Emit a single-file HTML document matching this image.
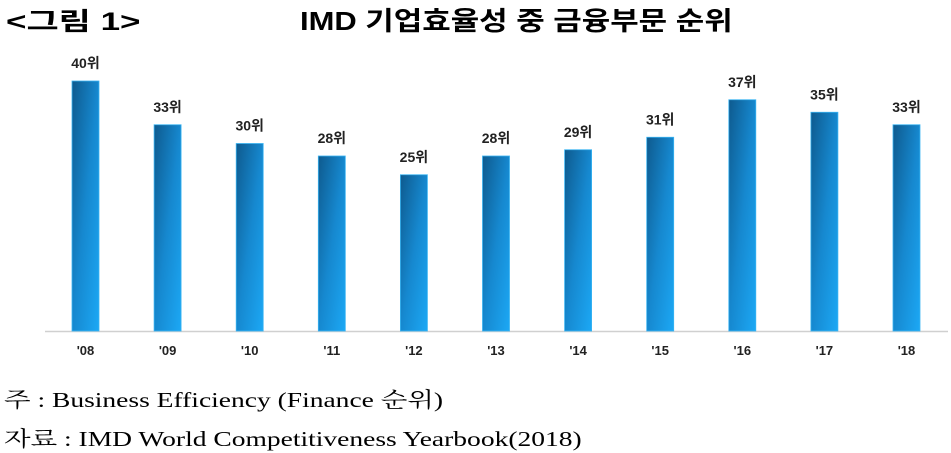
<!DOCTYPE html>
<html><head><meta charset="utf-8"><style>
body{margin:0;width:951px;height:450px;background:#fff;overflow:hidden;font-family:"Liberation Sans","Noto Sans CJK KR",sans-serif;}
.t{position:absolute;white-space:nowrap;transform-origin:0 0;}
</style></head><body>
<div class="t" style="left:6px;top:2px;font-size:25px;font-weight:bold;transform:scaleX(1.4);">&lt;그림 1&gt;</div>
<div class="t" style="left:300px;top:1px;font-size:26px;font-weight:bold;transform:scaleX(1.19);">IMD 기업효율성 중 금융부문 순위</div>
<svg id="c" width="951" height="450" style="position:absolute;left:0;top:0">
<defs><linearGradient id="g" x1="0" y1="0" x2="1" y2="1" gradientUnits="objectBoundingBox">
<stop offset="0" stop-color="#0e5a8e"/><stop offset="0.5" stop-color="#1688cf"/><stop offset="1" stop-color="#1ca8f5"/></linearGradient></defs>
</svg>
<div class="t" style="left:4px;top:384px;font-size:21px;font-family:'Liberation Serif','Noto Serif CJK SC',serif;transform:scaleX(1.31);">주 : Business Efficiency (Finance 순위)</div>
<div class="t" style="left:4px;top:423px;font-size:21px;font-family:'Liberation Serif','Noto Serif CJK SC',serif;transform:scaleX(1.31);">자료 : IMD World Competitiveness Yearbook(2018)</div>
<script>
const categories=["'08","'09","'10","'11","'12","'13","'14","'15","'16","'17","'18"];
const values=[40,33,30,28,25,28,29,31,37,35,33];
const svg=document.getElementById('c');const NS='http://www.w3.org/2000/svg';
const base=331,scale=6.25,x0=85.5,step=82.1,bw=27;
const y=v=>base-v*scale;const x=i=>x0+i*step;
function mk(t,a){const e=document.createElementNS(NS,t);for(const k in a)e.setAttribute(k,a[k]);svg.appendChild(e);return e;}
const ax=mk('line',{x1:45,x2:948,y1:base+0.5,y2:base+0.5,stroke:'#d0d0d0','stroke-width':1.5});


values.forEach((v,i)=>{
const r=mk('rect',{x:x(i)-bw/2,y:y(v),width:bw,height:base-y(v),fill:'url(#g)',stroke:'#3ab4f2','stroke-width':0.8});


const l=mk('text',{x:x(i),y:y(v)-13,'text-anchor':'middle','font-size':14,'font-weight':'bold',fill:'#222','font-family':'Liberation Sans, Noto Sans CJK KR, sans-serif'});
l.textContent=v+'위';


const c=mk('text',{x:x(i),y:base+24,'text-anchor':'middle','font-size':13,'font-weight':'bold',fill:'#222','font-family':'Liberation Sans, sans-serif'});
c.textContent=categories[i];


});
</script>
</body></html>
